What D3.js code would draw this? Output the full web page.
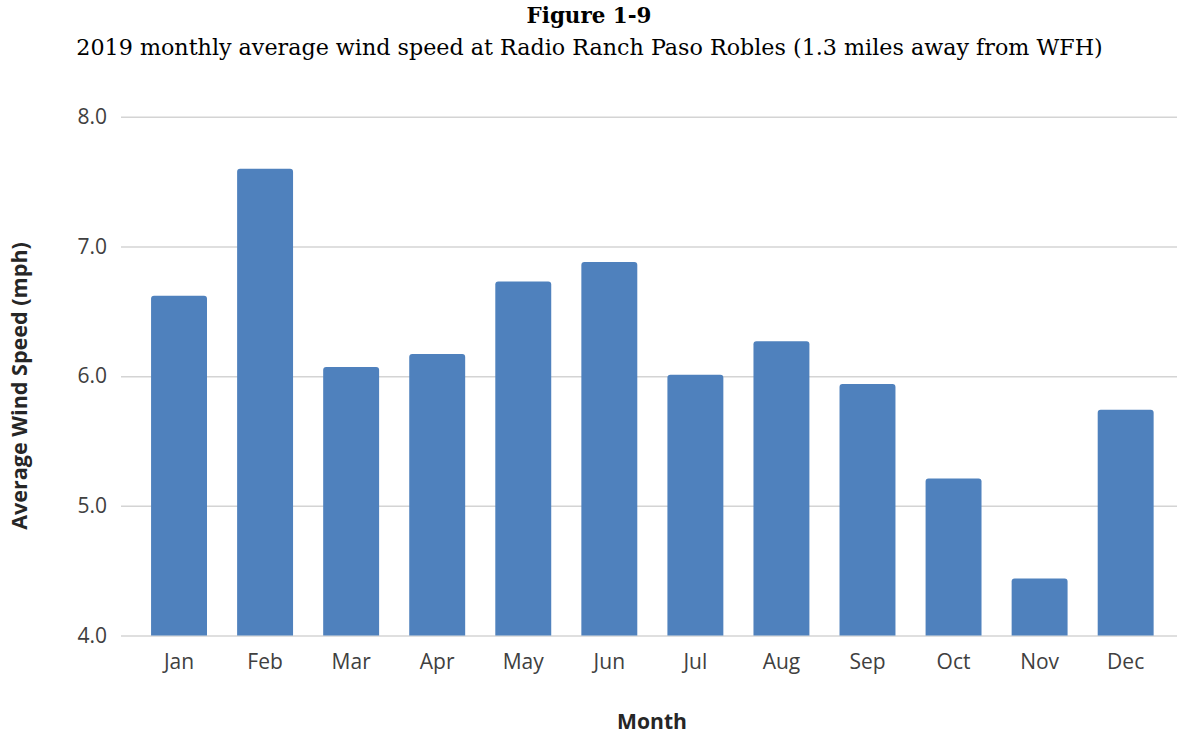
<!DOCTYPE html>
<html>
<head>
<meta charset="utf-8">
<script src="https://cdn.jsdelivr.net/npm/d3@7"></script>
<style>
  body { margin: 0; background: #fff; }
  svg { display: block; }
</style>
</head>
<body>
<div id="chart"></div>
<script>
// Data
const months = ["Jan", "Feb", "Mar", "Apr", "May", "Jun", "Jul", "Aug", "Sep", "Oct", "Nov", "Dec"];
const windSpeed = [6.62, 7.60, 6.07, 6.17, 6.73, 6.88, 6.01, 6.27, 5.94, 5.21, 4.44, 5.74];
const yTicks = [4.0, 5.0, 6.0, 7.0, 8.0];

const titleText = "Figure 1-9";
const subtitleText = "2019 monthly average wind speed at Radio Ranch Paso Robles (1.3 miles away from WFH)";

// Constants
const width = 1177;
const height = 735;
const barColor = "#4f81bd";
const gridColor = "#d4d4d4";
const sans = "'Open Sans', 'DejaVu Sans', sans-serif";
const serif = "'DejaVu Serif', 'Liberation Serif', serif";

const svg = d3.select("#chart")
  .append("svg")
    .attr("width", width)
    .attr("height", height);

// Scales
const x = d3.scaleBand()
  .domain(months)
  .range([136, 1168.7])
  .paddingInner(0.35)
  .paddingOuter(0.175);

const y = d3.scaleLinear()
  .domain([4, 8])
  .range([635.5, 116.8]);

// fit a text to a target width
const fit = (sel, target) => {
  const w = sel.node().getComputedTextLength();
  const fs = parseFloat(sel.style("font-size"));
  sel.style("font-size", (fs * target / w) + "px");
};

// Titles
const title = svg.append("text")
  .attr("x", 589)
  .attr("y", 23)
  .attr("text-anchor", "middle")
  .style("font-family", serif)
  .style("font-weight", "bold")
  .style("font-size", "21px")
  .attr("fill", "#000")
  .text(titleText);

const subtitle = svg.append("text")
  .attr("x", 589.5)
  .attr("y", 55)
  .attr("text-anchor", "middle")
  .style("font-family", serif)
  .style("font-size", "21px")
  .attr("fill", "#000")
  .text(subtitleText);

fit(subtitle, 1027);
fit(title, 125);

// Gridlines + y labels
const yAxis = d3.axisLeft(y)
  .tickValues(yTicks)
  .tickSize(0)
  .tickPadding(14)
  .tickFormat(d3.format(".1f"));

const gy = svg.append("g")
  .attr("transform", "translate(121,0)")
  .call(yAxis);
gy.select(".domain").remove();
gy.selectAll(".tick line")
  .attr("x1", 0)
  .attr("x2", width - 121)
  .attr("stroke", gridColor)
  .attr("stroke-width", 1.5);
gy.selectAll(".tick text")
  .style("font-family", sans)
  .style("font-size", "21px")
  .attr("fill", "#404040");

// Bars (rounded top corners)
const r = 3;
const barPath = (d, i) => {
  const x0 = x(months[i]);
  const x1 = x0 + x.bandwidth();
  const y0 = y(d);
  const yb = y(4);
  return `M${x0},${yb}V${y0 + r}Q${x0},${y0} ${x0 + r},${y0}H${x1 - r}Q${x1},${y0} ${x1},${y0 + r}V${yb}Z`;
};

svg.append("g")
  .selectAll("path")
  .data(windSpeed)
  .enter().append("path")
    .attr("d", barPath)
    .attr("fill", barColor);

// X axis labels
const xAxis = d3.axisBottom(x).tickSize(0).tickPadding(19);
const gx = svg.append("g")
  .attr("transform", `translate(0,${y(4)})`)
  .call(xAxis);
gx.select(".domain").remove();
gx.selectAll(".tick text")
  .style("font-family", sans)
  .style("font-size", "21px")
  .attr("fill", "#404040");

// Axis titles
const xTitle = svg.append("text")
  .attr("x", 652)
  .attr("y", 729)
  .attr("text-anchor", "middle")
  .style("font-family", sans)
  .style("font-weight", "bold")
  .style("font-size", "20px")
  .attr("fill", "#262626")
  .text("Month");
fit(xTitle, 70);

const yTitle = svg.append("text")
  .attr("transform", "translate(27,386) rotate(-90)")
  .attr("text-anchor", "middle")
  .style("font-family", sans)
  .style("font-weight", "bold")
  .style("font-size", "20px")
  .attr("fill", "#262626")
  .text("Average Wind Speed (mph)");
fit(yTitle, 288);
</script>
</body>
</html>
